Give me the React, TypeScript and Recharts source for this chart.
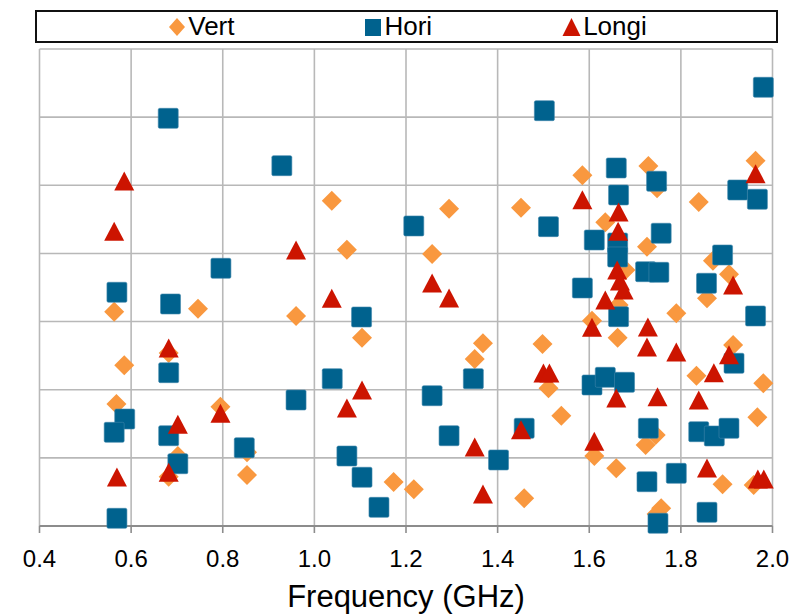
import React from 'react';
import { ScatterChart, Scatter, XAxis, YAxis, CartesianGrid } from 'recharts';

// Series names and colours
const seriesNames = ['Vert', 'Hori', 'Longi'];
const seriesColors = ['#F9983F', '#00628E', '#CC1400'];

// X axis ticks (GHz) and Y grid levels (unlabelled)
const xTicks = [0.4, 0.6, 0.8, 1.0, 1.2, 1.4, 1.6, 1.8, 2.0];
const yTicks = [0, 1, 2, 3, 4, 5, 6, 7];

// Vert series: [frequency, value]
const vertData = [
  [0.563, 3.145], [0.585, 2.358], [0.568, 1.79], [0.682, 2.539], [0.746, 3.189],
  [0.702, 1.027], [0.682, 0.724], [0.795, 1.751], [0.853, 1.082], [0.853, 0.748],
  [0.96, 3.082], [1.038, 4.774], [1.071, 4.055], [1.104, 2.763], [1.173, 0.646],
  [1.217, 0.539], [1.257, 3.992], [1.294, 4.657], [1.35, 2.451], [1.368, 2.681],
  [1.451, 4.671], [1.458, 0.407], [1.498, 2.671], [1.511, 2.021], [1.539, 1.619],
  [1.585, 5.147], [1.606, 3.013], [1.611, 1.027], [1.635, 4.457], [1.659, 0.847],
  [1.662, 2.763], [1.664, 3.243], [1.679, 3.757], [1.726, 4.099], [1.729, 5.283],
  [1.748, 4.956], [1.745, 1.336], [1.723, 1.189], [1.757, 0.26], [1.747, 0.176],
  [1.79, 3.122], [1.834, 2.206], [1.839, 4.755], [1.857, 3.342], [1.87, 3.894],
  [1.891, 0.612], [1.905, 3.694], [1.914, 2.656], [1.959, 0.602], [1.963, 5.361],
  [1.967, 1.595], [1.98, 2.094],
];

// Hori series
const horiData = [
  [0.681, 5.983], [0.929, 5.288], [0.796, 3.782], [0.569, 3.43], [0.686, 3.258],
  [0.682, 2.25], [0.586, 1.57], [0.563, 1.375], [0.682, 1.325], [0.702, 0.914],
  [0.847, 1.149], [0.96, 1.849], [0.569, 0.113], [1.502, 6.095], [1.217, 4.403],
  [1.511, 4.393], [1.103, 3.067], [1.039, 2.162], [1.347, 2.162], [1.257, 1.912],
  [1.294, 1.325], [1.458, 1.434], [1.402, 0.969], [1.071, 1.027], [1.104, 0.715],
  [1.141, 0.274], [1.98, 6.438], [1.659, 5.254], [1.747, 5.059], [1.664, 4.858],
  [1.924, 4.931], [1.967, 4.795], [1.611, 4.197], [1.757, 4.296], [1.662, 4.153],
  [1.662, 3.948], [1.891, 3.977], [1.856, 3.562], [1.723, 3.732], [1.752, 3.723],
  [1.585, 3.493], [1.963, 3.082], [1.664, 3.072], [1.916, 2.388], [1.606, 2.069],
  [1.635, 2.182], [1.677, 2.109], [1.729, 1.434], [1.839, 1.384], [1.873, 1.321],
  [1.905, 1.434], [1.726, 0.65], [1.79, 0.773], [1.857, 0.201], [1.75, 0.04],
];

// Longi series
const longiData = [
  [0.585, 5.063], [0.563, 4.325], [0.96, 4.051], [0.682, 2.612], [0.795, 1.654],
  [0.702, 1.493], [0.682, 0.788], [0.569, 0.719], [1.257, 3.566], [1.038, 3.342],
  [1.294, 3.346], [1.104, 1.996], [1.071, 1.732], [1.451, 1.413], [1.35, 1.159],
  [1.368, 0.47], [1.5, 2.245], [1.513, 2.245], [1.963, 5.17], [1.585, 4.789],
  [1.664, 4.608], [1.663, 4.325], [1.661, 3.757], [1.667, 3.596], [1.675, 3.464],
  [1.635, 3.317], [1.914, 3.537], [1.606, 2.916], [1.728, 2.921], [1.726, 2.627],
  [1.79, 2.554], [1.905, 2.514], [1.872, 2.25], [1.659, 1.879], [1.749, 1.898],
  [1.839, 1.849], [1.611, 1.243], [1.857, 0.851], [1.968, 0.69], [1.981, 0.69],
];

const toPoints = (arr: number[][]) => arr.map(([f, v]) => ({ f, v }));
const seriesData = [toPoints(vertData), toPoints(horiData), toPoints(longiData)];

const FONT = '"Liberation Sans", Arial, Helvetica, sans-serif';

const Diamond = (props: any) => {
  const { cx, cy, fill } = props;
  const r = 10;
  return (
    <polygon
      points={`${cx},${cy - r} ${cx + r},${cy} ${cx},${cy + r} ${cx - r},${cy}`}
      fill={fill}
    />
  );
};

const Square = (props: any) => {
  const { cx, cy, fill } = props;
  const h = 10;
  return <rect x={cx - h} y={cy - h} width={2 * h} height={2 * h} rx={1.5} fill={fill} stroke="#3f86ab" strokeWidth={0.6} />;
};

const Triangle = (props: any) => {
  const { cx, cy, fill } = props;
  return (
    <polygon
      points={`${cx},${cy - 9.5} ${cx + 10},${cy + 9.5} ${cx - 10},${cy + 9.5}`}
      fill={fill}
    />
  );
};

const shapes = [Diamond, Square, Triangle];

const NoTick = () => <g />;

const LegendMarker = ({ idx }: { idx: number }) => {
  const c = seriesColors[idx];
  if (idx === 0)
    return (
      <svg width={18} height={20}>
        <polygon points="9,1 17,10 9,19 1,10" fill={c} />
      </svg>
    );
  if (idx === 1)
    return (
      <svg width={18} height={20}>
        <rect x={1} y={2} width={16} height={17} fill={c} />
      </svg>
    );
  return (
    <svg width={19} height={20}>
      <polygon points="9.5,1 18.5,19 0.5,19" fill={c} />
    </svg>
  );
};

export default function App() {
  return (
    <div style={{ position: 'absolute', left: 0, top: 0, width: 800, height: 616, background: '#fff', fontFamily: FONT }}>
      <div
        style={{
          position: 'absolute',
          left: 35,
          top: 10,
          width: 737,
          height: 29,
          border: '2px solid #111',
          display: 'flex',
          alignItems: 'center',
          justifyContent: 'center',
          paddingLeft: 2,
          boxSizing: 'content-box',
        }}
      >
        {seriesNames.map((n, i) => (
          <div
            key={n}
            style={{ display: 'flex', alignItems: 'center', marginRight: i < 2 ? 130 : 0 }}
          >
            <LegendMarker idx={i} />
            <span style={{ fontSize: 26, lineHeight: '29px', marginLeft: 2, color: '#000' }}>{n}</span>
          </div>
        ))}
      </div>
      <ScatterChart
        width={800}
        height={616}
        margin={{ top: 49, right: 27.5, bottom: 0, left: 38.5 }}
      >
        <CartesianGrid
          syncWithTicks
          horizontal={{ stroke: '#8c8c8c', strokeWidth: 1.6 } as any}
          vertical={{ stroke: '#b8b8b8', strokeWidth: 1.6 } as any}
          stroke="#b8b8b8"
          strokeWidth={1.6}
        />
        <XAxis
          type="number"
          dataKey="f"
          domain={[0.4, 2.0]}
          ticks={xTicks}
          tickFormatter={(v: number) => v.toFixed(1)}
          height={90}
          axisLine={{ stroke: '#8c8c8c', strokeWidth: 1.8 }}
          tickLine={{ stroke: '#8c8c8c', strokeWidth: 1.6 }}
          tickSize={7}
          tickMargin={17}
          tick={{ fill: '#000', fontSize: 24, fontFamily: FONT }}
          label={{
            value: 'Frequency (GHz)',
            position: 'insideBottom',
            offset: 9,
            fill: '#000',
            fontSize: 31,
            fontFamily: FONT,
          }}
        />
        <YAxis
          type="number"
          dataKey="v"
          domain={[0, 7]}
          ticks={yTicks}
          interval={0}
          width={1}
          tick={NoTick}
          axisLine={false}
          tickLine={false}
        />
        {seriesNames.map((n, i) => (
          <Scatter
            key={n}
            name={n}
            data={seriesData[i]}
            fill={seriesColors[i]}
            shape={shapes[i]}
            isAnimationActive={false}
          />
        ))}
      </ScatterChart>
    </div>
  );
}
